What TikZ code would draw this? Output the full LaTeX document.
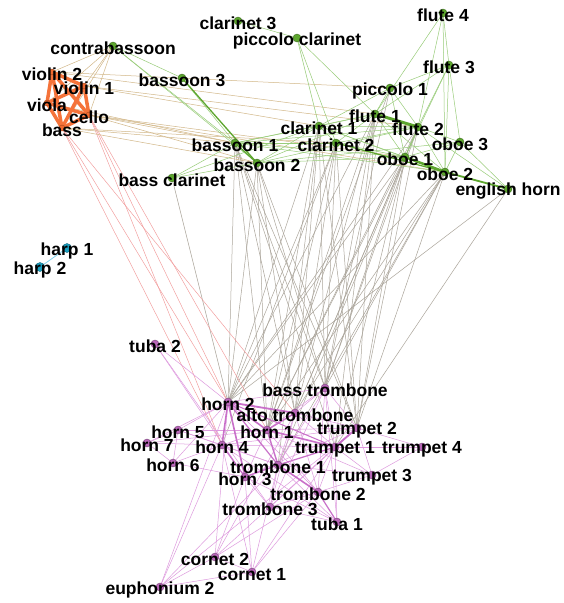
\documentclass[tikz,border=0pt]{standalone}
\usepackage{fontspec}
\setmainfont{Liberation Sans}
\definecolor{wwc}{HTML}{5DA62E}
\definecolor{stc}{HTML}{F26B30}
\definecolor{hpc}{HTML}{1A9FC0}
\definecolor{brc}{HTML}{B866B8}
\definecolor{wwe}{HTML}{98CC78}
\definecolor{tane}{HTML}{D2B788}
\definecolor{rede}{HTML}{F29A9A}
\definecolor{grye}{HTML}{ABA59B}
\definecolor{bre}{HTML}{DE9ADE}
\definecolor{bre2}{HTML}{C970C9}
\definecolor{ore}{HTML}{F5733A}
\definecolor{hpe}{HTML}{7FD3EE}
\begin{document}
\begin{tikzpicture}[x=1pt,y=-1pt,
  dot/.style={circle,inner sep=0pt,minimum size=8pt,draw=#1!65!black,fill=#1,line width=0.4pt},
  lbl/.style={font=\bfseries\fontsize{17.5}{18}\selectfont,inner sep=0pt,text=black,yshift=-2.5pt},
  wwl/.style={draw=wwe,line width=0.5pt},
  wwt/.style={draw=wwc,line width=#1},
  tanl/.style={draw=tane,line width=0.5pt},
  redl/.style={draw=rede,line width=0.45pt},
  gryl/.style={draw=grye,line width=0.5pt},
  brl/.style={draw=bre,line width=0.5pt},
  brt/.style={draw=bre2,line width=#1},
  orl/.style={draw=ore,line width=3.5pt,line cap=round},
]
\useasboundingbox (0,0) rectangle (563,603);
\fill[white] (0,0) rectangle (563,603);
% ---- coordinates
\coordinate (cb) at (113,46);
\coordinate (v2) at (52,72);
\coordinate (v1) at (84,86);
\coordinate (va) at (47,103);
\coordinate (vc) at (89,115);
\coordinate (db) at (62,128);
\coordinate (cl3) at (238,21);
\coordinate (pcl) at (297,38);
\coordinate (bn3) at (182,78);
\coordinate (fl4) at (443,13);
\coordinate (fl3) at (449,65);
\coordinate (pc1) at (390,88);
\coordinate (fl1) at (375,114);
\coordinate (fl2) at (418,127);
\coordinate (ob3) at (460,142);
\coordinate (ob1) at (405,157);
\coordinate (ob2) at (445,172);
\coordinate (eh) at (508,189);
\coordinate (cl1) at (319,126);
\coordinate (cl2) at (336,143);
\coordinate (bn1) at (235,143);
\coordinate (bn2) at (257,163);
\coordinate (bcl) at (172,178);
\coordinate (hp1) at (67,248);
\coordinate (hp2) at (40,267);
\coordinate (tb2) at (155,344);
\coordinate (h2) at (228,402);
\coordinate (btb) at (325,388);
\coordinate (atb) at (295,413);
\coordinate (h1) at (267,430);
\coordinate (tp2) at (357,428);
\coordinate (h5) at (178,430);
\coordinate (h7) at (147,443);
\coordinate (h4) at (222,445);
\coordinate (tp1) at (335,447);
\coordinate (tp4) at (422,447);
\coordinate (h6) at (173,463);
\coordinate (tr1) at (278,465);
\coordinate (tp3) at (372,475);
\coordinate (h3) at (245,477);
\coordinate (tr2) at (318,492);
\coordinate (tr3) at (270,507);
\coordinate (tu1) at (337,522);
\coordinate (co2) at (215,557);
\coordinate (co1) at (252,572);
\coordinate (eu2) at (160,587);
% ---- woodwind -> brass (grey)
\foreach \a in {bn1,bn2,cl1,cl2,fl1,fl2,ob1,ob2}
  \foreach \b in {h2,btb,h1,tp2,atb}
    \draw[gryl] (\a) -- (\b);
\foreach \a/\b in {eh/h2,eh/tp1,pc1/h1,bcl/h2,pc1/btb,fl2/tr1,ob1/tp1,cl1/tr1,bn1/tp1,ob2/tr1,cl2/h4,fl1/tp1}
  \draw[gryl] (\a) -- (\b);
% ---- strings -> brass (red)
\foreach \a/\b in {db/h2,db/h4,vc/h2,vc/h1,db/atb,vc/h4}
  \draw[redl] (\a) -- (\b);
% ---- strings -> woodwinds (tan)
\foreach \a/\b in {cb/v2,cb/v1,cb/va,cb/vc,cb/db,v2/fl1,v1/cl1,v1/fl2,v2/pc1,va/bn1,vc/bn1,vc/ob1,vc/ob2,db/bn2,db/bn1,db/cl2,va/bn2}
  \draw[tanl] (\a) -- (\b);
% ---- woodwinds (green)
\foreach \a/\b in {cb/bn3,cb/bn1,cb/bn2,bn3/bn1,cl3/pcl,pcl/cl1,pcl/cl2,pcl/fl1,
  fl4/fl3,fl4/fl1,fl4/fl2,fl4/ob2,fl3/pc1,fl3/fl2,fl3/fl1,fl3/ob3,fl3/ob2,fl3/ob1,
  pc1/fl1,pc1/fl2,pc1/ob1,pc1/cl1,fl1/cl1,fl1/cl2,fl1/bn1,fl1/bn2,fl1/ob1,fl1/ob2,
  fl2/ob3,fl2/ob1,fl2/ob2,fl2/cl1,fl2/cl2,fl2/bn1,ob1/ob3,ob3/ob2,ob3/eh,
  cl1/cl2,bn1/cl1,bn1/cl2,bn1/ob1,bn1/ob2,bn2/cl1,bn2/ob1,bn2/fl2,bn2/ob3,
  bcl/bn1,bcl/cl1,bcl/bn2,cl2/ob1,cl1/ob1,cl1/ob2,fl2/eh}
  \draw[wwl] (\a) -- (\b);
\draw[wwt=1.3pt] (bn3) -- (bn2);
\draw[wwt=1.2pt] (bn1) -- (bn2);
\draw[wwt=1.2pt] (cl2) -- (ob2);
\draw[wwt=3pt] (fl1) -- (fl2);
\draw[wwt=2.5pt] (ob1) -- (ob2);
\draw[wwt=1.8pt] (ob2) -- (eh);
% ---- strings (orange clique)
\foreach \a/\b in {v2/v1,v2/va,v2/vc,v2/db,v1/va,v1/vc,v1/db,va/vc,va/db,vc/db}
  \draw[orl] (\a) -- (\b);
% ---- harps
\draw[draw=hpe,line width=0.8pt] (hp1) -- (hp2);
% ---- brass (violet)
\foreach \a/\b in {tb2/h3,tb2/h2,tb2/tr3,h2/h5,h2/h6,h2/h7,h2/tr2,h2/co2,h2/eu2,h2/btb,
  h5/h7,h5/h6,h5/h4,h5/h1,h7/h6,h7/h4,h6/h4,h6/h3,h7/h1,h5/tr1,
  h1/h3,h1/h4,h1/tp2,h1/tr2,h1/btb,h1/tp3,
  atb/btb,atb/tr1,atb/tr2,atb/tr3,atb/tp1,atb/tp2,
  btb/tr1,btb/tr2,btb/tr3,btb/tu1,btb/tp2,btb/tp1,
  tp1/tp3,tp1/tp4,tp2/tp4,tp2/tp3,tp3/tp4,tp1/tr2,
  tr1/tr3,tr2/tr3,tr3/tu1,tr1/tu1,
  h3/h4,h3/tr3,h3/co2,h3/co1,h4/tr1,h4/eu2,h4/tp1,
  co1/co2,co2/eu2,co1/eu2,co2/tr2,co1/tr1,co1/tp1,co2/tp1,eu2/tr1,eu2/tp2,co1/tr2,co2/atb,co1/h4,
  tp3/tr1,tp3/tr2,tu1/h3,tu1/h4,tu1/tp1,tr3/tp2,h3/tp2,h4/tp2}
  \draw[brl] (\a) -- (\b);
\foreach \a/\b/\w in {h2/h1/1.6pt,h2/h4/1.6pt,h2/atb/1.8pt,h2/h3/1.6pt,atb/h1/1.4pt,h1/tp1/1.6pt,
  tp1/tp2/1.8pt,h1/tr1/1.4pt,tr1/tr2/1.6pt,tr2/tu1/1.2pt,h2/tr1/1.2pt,h3/tr1/1.3pt,h4/h3/1.2pt,tr1/tp1/1.2pt,h2/tp1/1pt}
  \draw[brt=\w] (\a) -- (\b);
% ---- nodes
\foreach \n in {cb,cl3,pcl,bn3,fl4,fl3,pc1,fl1,fl2,ob3,ob1,ob2,eh,cl1,cl2,bn1,bn2,bcl}
  \node[dot=wwc] (d\n) at (\n) {};
\foreach \n in {v2,v1,va,vc,db}
  \node[dot=stc,minimum size=6pt] (d\n) at (\n) {};
\foreach \n in {hp1,hp2}
  \node[dot=hpc,minimum size=9pt] (d\n) at (\n) {};
\foreach \n in {tb2,h2,btb,atb,h1,tp2,h5,h7,h4,tp1,tp4,h6,tr1,tp3,h3,tr2,tr3,tu1,co2,co1,eu2}
  \node[dot=brc] (d\n) at (\n) {};
% ---- labels
\foreach \n/\t in {cb/contrabassoon,v2/violin 2,v1/violin 1,va/viola,vc/cello,db/bass,
  cl3/clarinet 3,pcl/piccolo clarinet,bn3/bassoon 3,fl4/flute 4,fl3/flute 3,pc1/piccolo 1,
  fl1/flute 1,fl2/flute 2,ob3/oboe 3,ob1/oboe 1,ob2/oboe 2,eh/english horn,cl1/clarinet 1,
  cl2/clarinet 2,bn1/bassoon 1,bn2/bassoon 2,bcl/bass clarinet,hp1/harp 1,hp2/harp 2,
  tb2/tuba 2,h2/horn 2,btb/bass trombone,atb/alto trombone,h1/horn 1,tp2/trumpet 2,
  h5/horn 5,h7/horn 7,h4/horn 4,tp1/trumpet 1,tp4/trumpet 4,h6/horn 6,tr1/trombone 1,
  tp3/trumpet 3,h3/horn 3,tr2/trombone 2,tr3/trombone 3,tu1/tuba 1,co2/cornet 2,
  co1/cornet 1,eu2/euphonium 2}
  \node[lbl] (l\n) at (\n) {\t};
\end{tikzpicture}
\end{document}
